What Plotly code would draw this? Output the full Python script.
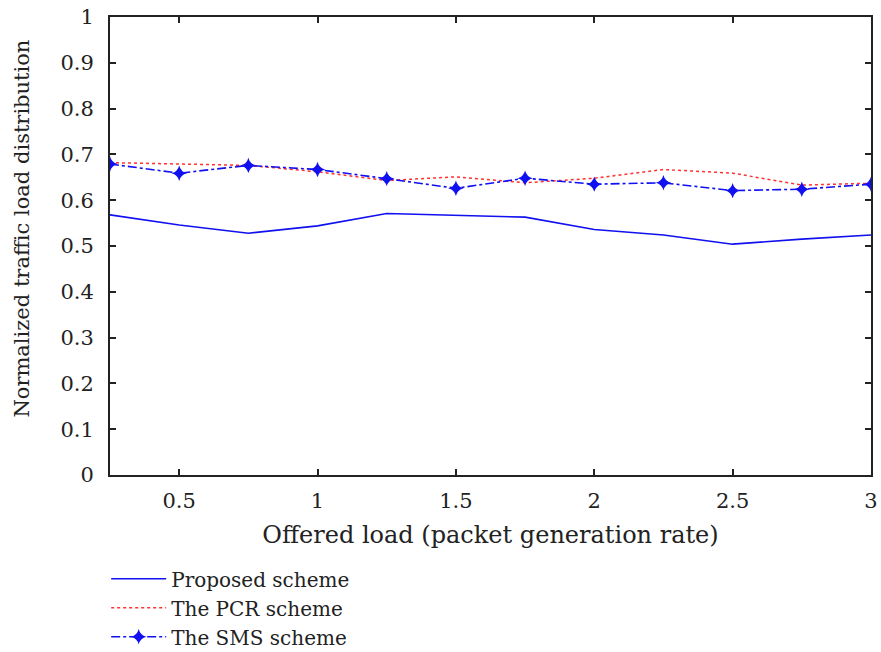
import plotly.graph_objects as go

x_vals = [0.25, 0.5, 0.75, 1.0, 1.25, 1.5, 1.75, 2.0, 2.25, 2.5, 2.75, 3.0]
proposed = [0.568, 0.546, 0.528, 0.544, 0.571, 0.567, 0.563, 0.536, 0.524, 0.504, 0.515, 0.524]
pcr = [0.682, 0.679, 0.676, 0.662, 0.643, 0.651, 0.638, 0.648, 0.667, 0.659, 0.633, 0.637]
sms = [0.679, 0.659, 0.676, 0.667, 0.647, 0.626, 0.648, 0.635, 0.638, 0.621, 0.624, 0.635]

x_ticks = [0.5, 1, 1.5, 2, 2.5, 3]
y_ticks = [0, 0.1, 0.2, 0.3, 0.4, 0.5, 0.6, 0.7, 0.8, 0.9, 1]

x_title = "Offered load (packet generation rate)"
y_title = "Normalized traffic load distribution"

font_family = "DejaVu Serif, Liberation Serif, serif"
text_color = "#222222"
blue = "#1010f0"

fig = go.Figure()
fig.add_trace(go.Scatter(x=x_vals, y=proposed, mode="lines", name="Proposed scheme",
                         line=dict(color=blue, width=1.6, dash="solid")))
fig.add_trace(go.Scatter(x=x_vals, y=pcr, mode="lines", name="The PCR scheme",
                         line=dict(color="#ff3030", width=1.5, dash="dot")))
fig.add_trace(go.Scatter(x=x_vals, y=sms, mode="lines+markers", name="The SMS scheme",
                         line=dict(color=blue, width=1.6, dash="dashdot"),
                         marker=dict(symbol="star-diamond", size=11, color=blue)))

axis_common = dict(showline=True, linecolor="#222222", linewidth=2, mirror="ticks",
                   ticks="inside", ticklen=6, tickwidth=1.5, tickcolor="#222222",
                   showgrid=False, zeroline=False, automargin=False,
                   ticklabeloverflow="allow",
                   tickfont=dict(family=font_family, size=21, color=text_color))

fig.update_xaxes(range=[0.25, 3.0], tickvals=x_ticks, ticktext=[("%g" % v) for v in x_ticks],
                 ticklabelstandoff=6,
                 title=dict(text=x_title,
                            font=dict(family=font_family, size=24, color=text_color), standoff=14),
                 **axis_common)
fig.update_yaxes(range=[0, 1], tickvals=y_ticks, ticktext=[("%g" % v) for v in y_ticks],
                 ticklabelstandoff=10,
                 **axis_common)

fig.add_annotation(text=y_title, xref="paper", yref="paper", x=-0.115, y=0.539,
                   xanchor="center", yanchor="middle", textangle=-90, showarrow=False,
                   font=dict(family=font_family, size=21, color=text_color))

fig.update_layout(
    width=881, height=652,
    margin=dict(l=110, r=10, t=17, b=177, autoexpand=False),
    plot_bgcolor="white", paper_bgcolor="white",
    legend=dict(x=-0.005, xanchor="left", y=-0.184, yanchor="top",
                font=dict(family=font_family, size=20, color=text_color),
                bgcolor="rgba(0,0,0,0)", itemwidth=55, tracegroupgap=0),
)

fig.write_html("out.html")
